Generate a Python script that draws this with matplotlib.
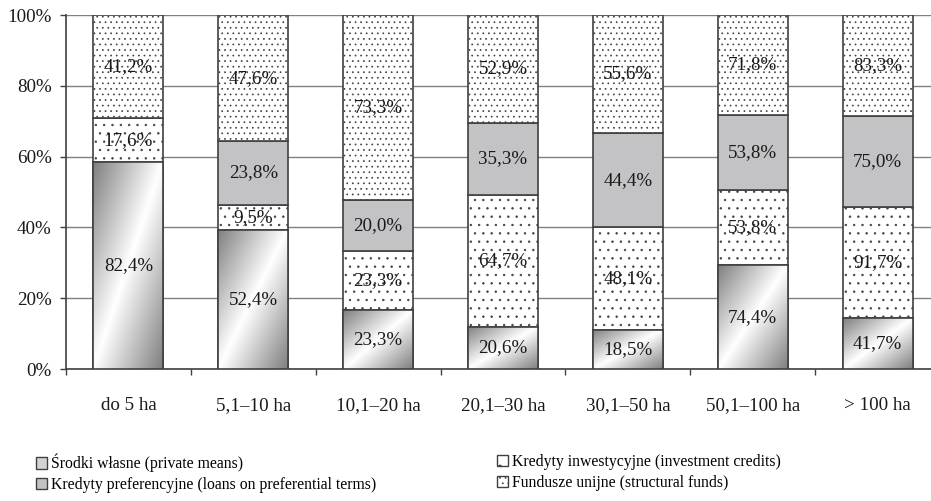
import numpy as np
import matplotlib
matplotlib.use("Agg")
import matplotlib.pyplot as plt
from matplotlib.patches import Patch

SERIF = ["Liberation Serif", "DejaVu Serif"]
plt.rcParams["font.family"] = SERIF
plt.rcParams["hatch.linewidth"] = 0.5

# farm size groups and share of farms using each funding source (%)
groups = ["do 5 ha", "5,1–10 ha", "10,1–20 ha", "20,1–30 ha",
          "30,1–50 ha", "50,1–100 ha", "> 100 ha"]
private_means = [82.4, 52.4, 23.3, 20.6, 18.5, 74.4, 41.7]
investment_credits = [17.6, 9.5, 23.3, 64.7, 48.1, 53.8, 91.7]
preferential_loans = [0.0, 23.8, 20.0, 35.3, 44.4, 53.8, 75.0]
structural_funds = [41.2, 47.6, 73.3, 52.9, 55.6, 71.8, 83.3]

series = [
    ("Środki własne (private means)", private_means),
    ("Kredyty inwestycyjne (investment credits)", investment_credits),
    ("Kredyty preferencyjne (loans on preferential terms)", preferential_loans),
    ("Fundusze unijne (structural funds)", structural_funds),
]

EDGE = "#404040"
TEXT = "#1a1a1a"
FS = 13.7
LEGEND_FS = 11.3

raw = np.array([s[1] for s in series])
shares = raw / raw.sum(axis=0) * 100

fig = plt.figure(figsize=(9.31, 5.01), dpi=100)
W, H = 931, 501
ax = fig.add_axes([66 / W, 1 - 369 / H, (940 - 66) / W, (369 - 15) / H])

x = np.arange(len(groups))
width = 0.56
bottom = np.zeros(len(groups))

# gradient used for the private means segments
gx, gy = np.meshgrid(np.linspace(0, 1, 60), np.linspace(0, 1, 120))
grad = 1 - 0.5 * np.abs(gx - gy)

styles = [
    dict(facecolor="white", hatch=None),
    dict(facecolor="white", hatch=".."),
    dict(facecolor="#c3c3c5", hatch=None),
    dict(facecolor="white", hatch="..."),
]

for k, (name, _) in enumerate(series):
    vals = shares[k]
    bars = ax.bar(x, vals, width, bottom=bottom, edgecolor=EDGE,
                  linewidth=1.2, zorder=3, **styles[k])
    for i, bar in enumerate(bars):
        if raw[k, i] == 0:
            continue
        if k == 0:
            im = ax.imshow(grad, cmap="gray", vmin=0, vmax=1, origin="lower",
                           extent=[x[i] - width / 2, x[i] + width / 2,
                                   bottom[i], bottom[i] + vals[i]],
                           aspect="auto", zorder=3.5, interpolation="bilinear")
            im.set_clip_path(bar)
            ax.bar(x[i], vals[i], width, bottom=bottom[i], facecolor="none",
                   edgecolor=EDGE, linewidth=1.2, zorder=4)
        label = f"{raw[k, i]:.1f}%".replace(".", ",")
        ax.text(x[i], bottom[i] + vals[i] / 2, label, ha="center",
                va="center", fontsize=FS, color=TEXT, zorder=5)
    bottom += vals

ax.set_xlim(-0.5, len(groups) - 0.5)
ax.set_ylim(0, 100)
ax.set_yticks(np.arange(0, 101, 20))
ax.set_yticklabels([f"{v}%" for v in range(0, 101, 20)], fontsize=FS, color=TEXT)
ax.set_xticks(x)
ax.set_xticklabels(groups, fontsize=FS, color=TEXT)
ax.set_xticks(np.arange(-0.5, len(groups)), minor=True)
ax.tick_params(axis="x", which="major", length=0, pad=20)
ax.tick_params(axis="x", which="minor", length=4.3, width=1, color=EDGE)
ax.tick_params(axis="y", length=4.3, width=1, color=EDGE, pad=6)
ax.yaxis.grid(True, color="#808080", linewidth=1, zorder=0)
ax.set_axisbelow(True)
for side in ("top", "right"):
    ax.spines[side].set_visible(False)
for side in ("left", "bottom"):
    ax.spines[side].set_color(EDGE)
    ax.spines[side].set_linewidth(1.2)

handles = [Patch(facecolor="#d4d4d4", edgecolor=EDGE),
           Patch(facecolor="white", edgecolor=EDGE, hatch="."),
           Patch(facecolor="#c3c3c5", edgecolor=EDGE),
           Patch(facecolor="white", edgecolor=EDGE, hatch="...")]
names = [s[0] for s in series]
common = dict(frameon=False, prop={"family": SERIF, "size": LEGEND_FS},
              handlelength=0.72, handleheight=0.72, handletextpad=0.25,
              labelspacing=0.3, borderpad=0, borderaxespad=0)
for col, left in ((0, 36), (1, 497)):
    fig.legend([handles[col], handles[col + 2]], [names[col], names[col + 2]],
               loc="upper left", bbox_to_anchor=(left / W, 1 - 454 / H),
               **common)

fig.savefig("out.png", dpi=100)
